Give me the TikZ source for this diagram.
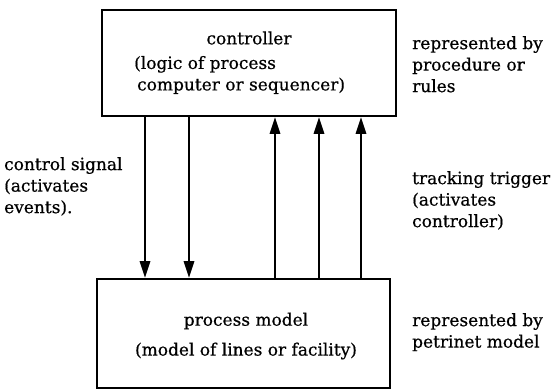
\documentclass[tikz,border=0pt]{standalone}
\usepackage{fontspec}
\setmainfont[FakeBold=0.6]{DejaVu Serif}
\usetikzlibrary{arrows.meta}
\begin{document}
\begin{tikzpicture}[x=1pt,y=1pt,
  box/.style={draw,line width=1.6pt,inner sep=0pt},
  txt/.style={font=\fontsize{17}{21.5}\selectfont,inner sep=0pt,align=left},
  ctxt/.style={font=\fontsize{17}{21.5}\selectfont,inner sep=0pt,align=center},
  arr/.style={line width=2.8pt,-{Triangle[length=17pt,width=10pt]}}]
\useasboundingbox (0,0) rectangle (551,390);
\node[box,minimum width=294pt,minimum height=106pt] (ctrl) at (249,327) {};
\node[box,minimum width=293pt,minimum height=109pt] (proc) at (243.5,56.5) {};
\node[ctxt] (t1) at (249,352) {controller};
\node[txt,anchor=west] (t2) at (134,315) {(logic of process\\\hspace*{3pt}computer or sequencer)};
\node[ctxt] (t3) at (246,69) {process model};
\node[ctxt] (t4) at (246,39) {(model of lines or facility)};
\node[txt,anchor=north west] (r1) at (412,354) {represented by\\procedure or\\rules};
\node[txt,anchor=north west] (r2) at (412,77) {represented by\\petrinet model};
\node[txt,anchor=north west] (l1) at (4,233) {control signal\\(activates\\events).};
\node[txt,anchor=north west] (r3) at (412,219) {tracking trigger\\(activates\\controller)};
\foreach \x in {145,189}
  \draw[arr] (ctrl.south -| \x,0) -- (proc.north -| \x,0);
\foreach \x in {275,319,361}
  \draw[arr] (proc.north -| \x,0) -- (ctrl.south -| \x,0);
\end{tikzpicture}
\end{document}
